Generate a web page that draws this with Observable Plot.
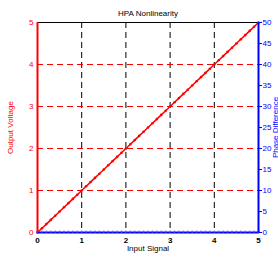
<!DOCTYPE html>
<html><head><meta charset="utf-8">
<script src="https://cdn.jsdelivr.net/npm/d3@7"></script>
<script src="https://cdn.jsdelivr.net/npm/@observablehq/plot@0.6"></script>
<style>body{margin:0;background:#fff}</style>
</head><body><div id="chart"></div>
<script>
const inputSignal = [0,0.1,0.2,0.3,0.4,0.5,0.6,0.7,0.8,0.9,1,1.1,1.2,1.3,1.4,1.5,1.6,1.7,1.8,1.9,2,2.1,2.2,2.3,2.4,2.5,2.6,2.7,2.8,2.9,3,3.1,3.2,3.3,3.4,3.5,3.6,3.7,3.8,3.9,4,4.1,4.2,4.3,4.4,4.5,4.6,4.7,4.8,4.9,5];
const outputVoltage = [0,0.1,0.2,0.3,0.4,0.5,0.6,0.7,0.8,0.9,1,1.1,1.2,1.3,1.4,1.5,1.6,1.7,1.8,1.9,2,2.1,2.2,2.3,2.4,2.5,2.6,2.7,2.8,2.9,3,3.1,3.2,3.3,3.4,3.5,3.6,3.7,3.8,3.9,4,4.1,4.2,4.3,4.4,4.5,4.6,4.7,4.8,4.9,5];
const phaseDifference = [0,0,0,0,0,0,0,0,0,0,0,0,0,0,0,0,0,0,0,0,0,0,0,0,0,0,0,0,0,0,0,0,0,0,0,0,0,0,0,0,0,0,0,0,0,0,0,0,0,0,0];
const xTicks = [0,1,2,3,4,5];
const voltageTicks = [0,1,2,3,4,5];
const phaseTicks = [0,5,10,15,20,25,30,35,40,45,50];
const gridX = [1,2,3,4];
const gridY = [1,2,3,4];
const phaseMax = 50, voltageMax = 5;

const data = inputSignal.map((x,i)=>({x, v: outputVoltage[i], p: phaseDifference[i]}));
const toV = p => p * voltageMax / phaseMax;

const chart = Plot.plot({
  width: 278, height: 257,
  marginLeft: 37, marginRight: 20, marginTop: 22, marginBottom: 25,
  x: {domain: [0, 5]},
  y: {domain: [0, 5]},
  style: {fontFamily: "'Liberation Sans', Arial, sans-serif", fontSize: "8px", background: "white", overflow: "visible"},
  marks: [
    Plot.ruleX(gridX, {stroke: "black", strokeDasharray: "6,4", strokeWidth: 1}),
    Plot.ruleY(gridY, {stroke: "red", strokeDasharray: "6,4", strokeWidth: 1}),
    Plot.ruleY([5], {stroke: "black", strokeWidth: 1}),
    Plot.line(data, {x: "x", y: "v", stroke: "red", strokeWidth: 1.5}),
    Plot.dot(data, {x: "x", y: "v", r: 1.3, fill: "red", stroke: "none"}),
    Plot.line(data, {x: "x", y: d => toV(d.p), stroke: "blue", strokeWidth: 2}),
    Plot.dot(data, {x: "x", y: d => toV(d.p), r: 1.1, fill: "#6a6aff", stroke: "none", dy: -1}),
    Plot.ruleX([0], {stroke: "red", strokeWidth: 2}),
    Plot.ruleX([5], {stroke: "blue", strokeWidth: 2}),
    Plot.axisX(xTicks, {tickSize: 0, tickPadding: 5, fontWeight: "bold", fill: "black", label: null}),
    Plot.text(["Input Signal"], {frameAnchor: "bottom", dy: 18, fill: "black", fontSize: 8}),
    Plot.axisY(voltageTicks, {anchor: "left", tickSize: 0, tickPadding: 4, color: "red",
      label: "Output Voltage", labelAnchor: "center", labelArrow: "none", labelOffset: 30}),
    Plot.axisY(phaseTicks.map(toV), {anchor: "right", tickSize: 3, tickPadding: 1, color: "blue",
      tickFormat: d => Math.round(d * phaseMax / voltageMax),
      label: "Phase Difference", labelAnchor: "center", labelArrow: "none", labelOffset: 19}),
    Plot.text(["HPA Nonlinearity"], {frameAnchor: "top", dy: -12, fill: "black", fontSize: 8})
  ]
});
document.getElementById("chart").appendChild(chart);
</script></body></html>
